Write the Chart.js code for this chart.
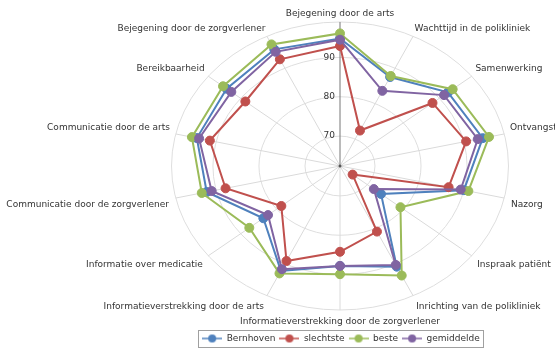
<!DOCTYPE html>
<html>
<head>
<meta charset="utf-8">
<script src="https://cdn.jsdelivr.net/npm/chart.js@4.4.1/dist/chart.umd.min.js"></script>
<style>
  html, body { margin: 0; padding: 0; background: #fff; }
  #wrap { width: 555px; height: 348px; }
</style>
</head>
<body>
<div id="wrap"><canvas id="radar"></canvas></div>
<script>
const labels = [
  'Bejegening door de arts',
  'Wachttijd in de polikliniek',
  'Samenwerking',
  'Ontvangst',
  'Nazorg',
  'Inspraak patiënt',
  'Inrichting van de polikliniek',
  'Informatieverstrekking door de zorgverlener',
  'Informatieverstrekking door de arts',
  'Informatie over medicatie',
  'Communicatie door de zorgverlener',
  'Communicatie door de arts',
  'Bereikbaarheid',
  'Bejegening door de zorgverlener'
];
const bernhoven  = [94.8, 87.5, 92.4, 94.2, 90.0, 73.8, 90.8, 87.8, 92.0, 83.7, 92.1, 94.3, 93.9, 95.3];
const slechtste  = [92.9, 72.4, 88.1, 90.5, 86.6, 65.9, 80.9, 84.2, 89.2, 78.7, 87.9, 91.4, 88.7, 92.5];
const beste      = [96.1, 87.8, 93.7, 95.6, 91.0, 79.2, 93.3, 89.9, 92.7, 87.6, 93.2, 95.4, 94.9, 96.7];
const gemiddelde = [94.5, 83.6, 91.3, 93.1, 89.3, 71.8, 90.3, 87.8, 91.5, 82.4, 91.0, 93.8, 92.6, 94.6];
const tickValues = [70, 80, 90];

const FONT = '"DejaVu Sans", sans-serif';
const TEXT = '#333';

// plot is an ellipse, wider than tall, centred right of the middle
const plot = { cx: 340, cy: 166, radius: 144, stretch: 1.17 };
// label gap per spoke: the upper labels sit a bit closer to the rim
const labelGap = [3, 3, 4, 5, 6, 6, 6, 6, 6, 6, 6, 5, 4, 3];

class EllipseRadialScale extends Chart.RadialLinearScale {
  static id = 'ellipseRadial';

  setCenterPoint() {
    this.xCenter = plot.cx;
    this.yCenter = plot.cy;
    this.drawingArea = plot.radius;
  }

  getPointPosition(index, distance, angleOffset = 0) {
    const p = super.getPointPosition(index, distance, angleOffset);
    p.x = this.xCenter + (p.x - this.xCenter) * plot.stretch;
    return p;
  }

  drawBackground() {
    super.drawBackground();
    const ctx = this.ctx;
    ctx.save();
    ctx.strokeStyle = '#dedede';
    ctx.lineWidth = 1;
    this.ticks.forEach((t, i) => {
      if (i === 0) return;
      const r = this.getDistanceFromCenterForValue(t.value);
      ctx.beginPath();
      ctx.ellipse(this.xCenter, this.yCenter, r * plot.stretch, r, 0, 0, Math.PI * 2);
      ctx.stroke();
    });
    ctx.restore();
  }

  drawLabels() {
    const ctx = this.ctx;
    ctx.save();
    ctx.fillStyle = '#555';
    ctx.beginPath();
    ctx.arc(this.xCenter, this.yCenter, 1.5, 0, Math.PI * 2);
    ctx.fill();
    ctx.font = '9px ' + FONT;
    ctx.fillStyle = TEXT;
    ctx.textAlign = 'right';
    ctx.textBaseline = 'middle';
    tickValues.forEach(v => {
      const y = this.yCenter - this.getDistanceFromCenterForValue(v);
      ctx.fillText(String(v), this.xCenter - 5, y);
    });
    ctx.restore();
  }
}
Chart.register(EllipseRadialScale);

const series = [
  { label: 'Bernhoven', data: bernhoven, color: '#4f81bd', order: 3 },
  { label: 'slechtste', data: slechtste, color: '#c0504d', order: 2 },
  { label: 'beste', data: beste, color: '#9bbb59', order: 1 },
  { label: 'gemiddelde', data: gemiddelde, color: '#8064a2', order: 0 }
];

// legend marker: short line with a dot, like the original
function legendMarker(color) {
  const c = document.createElement('canvas');
  c.width = 20; c.height = 10;
  const g = c.getContext('2d');
  g.strokeStyle = color; g.lineWidth = 1.5;
  g.beginPath(); g.moveTo(0, 5); g.lineTo(20, 5); g.stroke();
  g.fillStyle = color;
  g.beginPath(); g.arc(10, 5, 4, 0, Math.PI * 2); g.fill();
  return c;
}
const markers = series.map(s => legendMarker(s.color));

const legendFrame = {
  id: 'legendFrame',
  afterDraw(chart) {
    const boxes = chart.legend && chart.legend.legendHitBoxes;
    if (!boxes || !boxes.length) return;
    const l = Math.min(...boxes.map(b => b.left));
    const r = Math.max(...boxes.map(b => b.left + b.width));
    const t = Math.min(...boxes.map(b => b.top));
    const b = Math.max(...boxes.map(b => b.top + b.height));
    const ctx = chart.ctx;
    ctx.save();
    ctx.strokeStyle = '#a0a0a0';
    ctx.lineWidth = 1;
    ctx.strokeRect(Math.round(l - 4) + 0.5, Math.round(t - 4) + 0.5, Math.round(r - l + 7), Math.round(b - t + 8));
    ctx.restore();
  }
};

new Chart('radar', {
  type: 'radar',
  data: {
    labels: labels,
    datasets: series.map(s => ({
      label: s.label,
      data: s.data,
      order: s.order,
      borderColor: s.color,
      backgroundColor: s.color,
      pointBackgroundColor: s.color,
      pointBorderColor: s.color,
      pointRadius: 4.5,
      pointBorderWidth: 1,
      borderWidth: 2,
      fill: false,
      clip: false
    }))
  },
  options: {
    responsive: true,
    maintainAspectRatio: false,
    animation: false,
    layout: { padding: { left: 127, bottom: -5 } },
    scales: {
      r: {
        type: 'ellipseRadial',
        min: 62.4,
        max: 99,
        ticks: { stepSize: 10, display: false },
        grid: { display: false },
        angleLines: {
          color: ctx => ctx.index === 0 ? '#777' : '#dadada',
          lineWidth: 1
        },
        pointLabels: {
          font: { family: FONT, size: 9 },
          color: TEXT,
          padding: ctx => labelGap[ctx.index]
        }
      }
    },
    plugins: {
      tooltip: { enabled: false },
      legend: {
        position: 'bottom',
        reverse: true,
        labels: {
          usePointStyle: true,
          pointStyleWidth: 20,
          padding: 4,
          color: TEXT,
          font: { family: FONT, size: 9 },
          generateLabels(chart) {
            const items = Chart.defaults.plugins.legend.labels.generateLabels(chart);
            items.forEach(it => { it.pointStyle = markers[it.datasetIndex]; });
            return items;
          }
        }
      }
    }
  },
  plugins: [legendFrame]
});
</script>
</body>
</html>
